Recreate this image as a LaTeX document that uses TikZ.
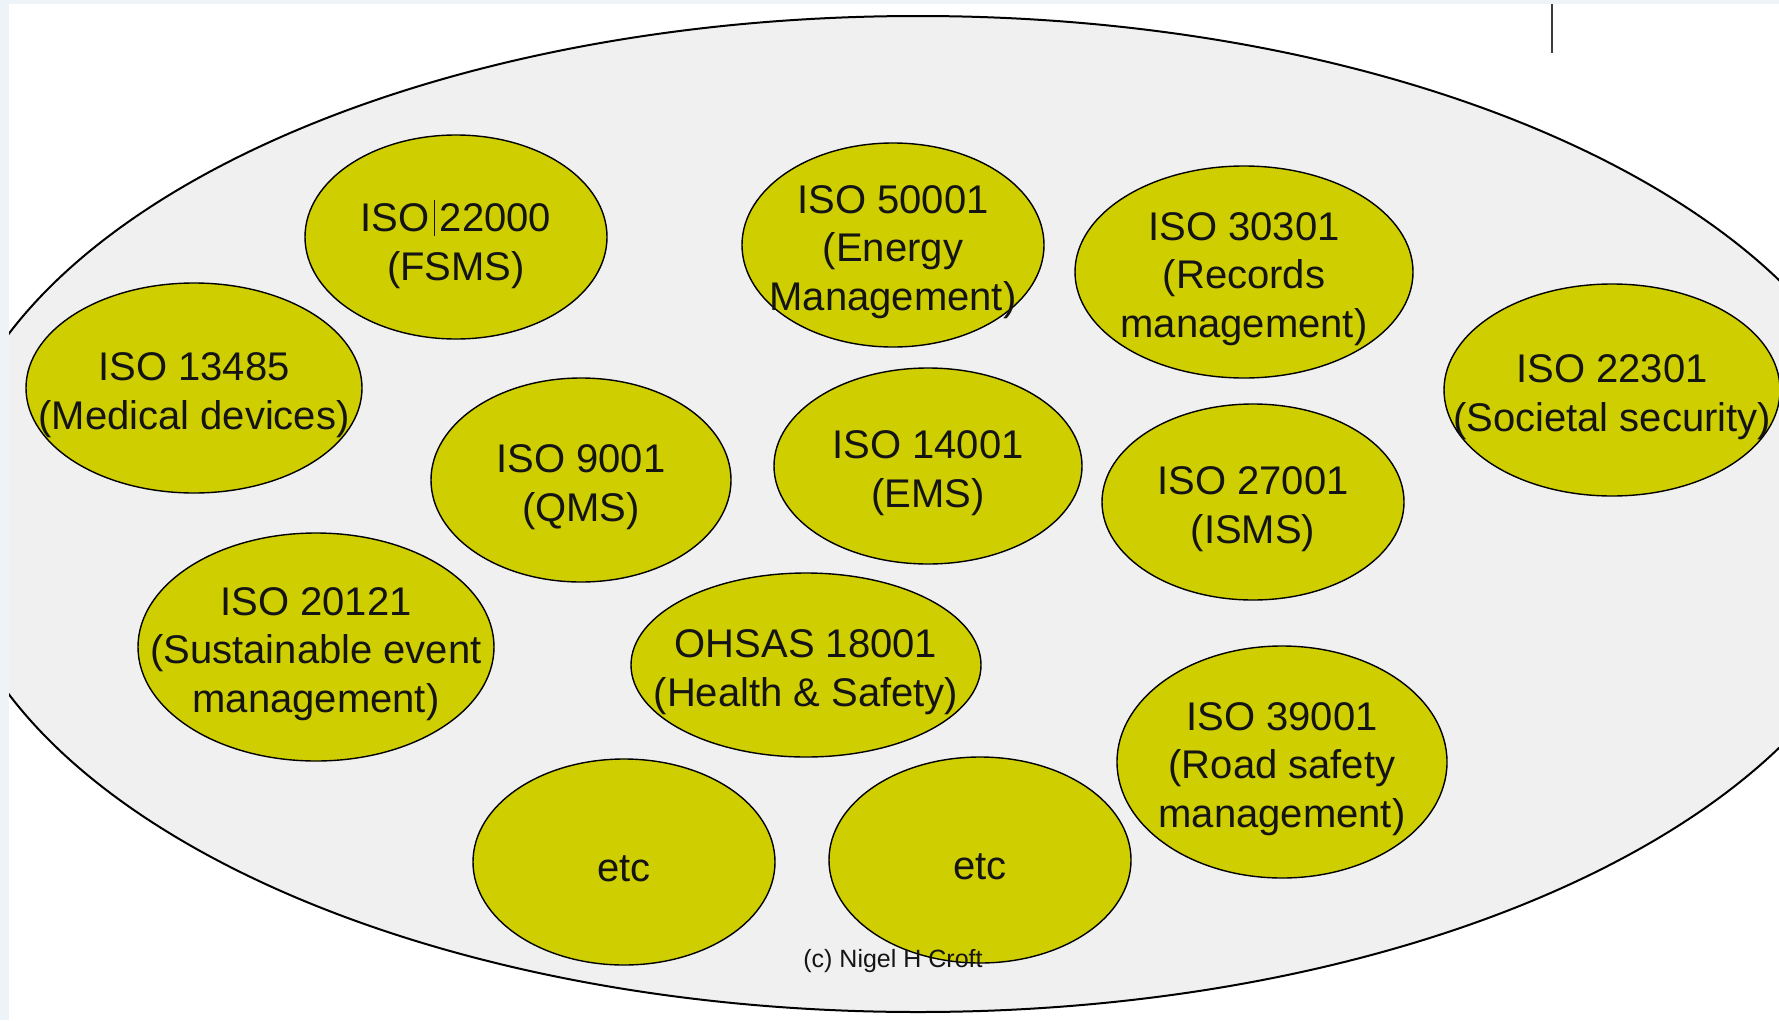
\documentclass[tikz,border=0pt]{standalone}
\usepackage{fontspec}
\setmainfont{Liberation Sans}
\usetikzlibrary{shapes.geometric}
\definecolor{frameblue}{RGB}{238,243,248}
\definecolor{biggrey}{RGB}{240,240,240}
\definecolor{isoyellow}{RGB}{206,206,0}
\definecolor{inkblack}{RGB}{20,20,20}
\tikzset{
  isobox/.style={ellipse, draw=black, line width=1.4pt, fill=isoyellow, inner sep=0pt, outer sep=0pt},
  isotext/.style={align=center, text=inkblack, inner sep=0pt, yshift=-7pt, font=\fontsize{40}{48.5}\selectfont},
  bigbox/.style={draw=black, line width=2pt, fill=biggrey},
}
\begin{document}
\begin{tikzpicture}[x=1pt,y=-1pt]
\useasboundingbox[fill=frameblue] (0,0) rectangle (1779,1020);
\begin{scope}
\clip (9,4) rectangle (1779,1020);
\fill[white] (9,4) rectangle (1779,1020);
\draw[bigbox] (918,514) ellipse [x radius=975, y radius=498];
\node[isobox, minimum width=302, minimum height=204,
  label={[isotext]center:ISO\kern4pt\rule[-4pt]{1.2pt}{36pt}\kern5pt 22000\\(FSMS)}] (iso22000) at (456,237) {};
\node[isobox, minimum width=336, minimum height=210,
  label={[isotext]center:ISO 13485\\(Medical devices)}] (iso13485) at (194,388) {};
\node[isobox, minimum width=302, minimum height=204,
  label={[isotext]center:ISO 50001\\(Energy\\Management)}] (iso50001) at (893,245) {};
\node[isobox, minimum width=338, minimum height=212,
  label={[isotext]center:ISO 30301\\(Records\\management)}] (iso30301) at (1244,272) {};
\node[isobox, minimum width=336, minimum height=212,
  label={[isotext]center:ISO 22301\\(Societal security)}] (iso22301) at (1612,390) {};
\node[isobox, minimum width=300, minimum height=204,
  label={[isotext]center:ISO 9001\\(QMS)}] (iso9001) at (581,480) {};
\node[isobox, minimum width=308, minimum height=196,
  label={[isotext]center:ISO 14001\\(EMS)}] (iso14001) at (928,466) {};
\node[isobox, minimum width=302, minimum height=196,
  label={[isotext]center:ISO 27001\\(ISMS)}] (iso27001) at (1253,502) {};
\node[isobox, minimum width=356, minimum height=228,
  label={[isotext]center:ISO 20121\\(Sustainable event\\management)}] (iso20121) at (316,647) {};
\node[isobox, minimum width=350, minimum height=184,
  label={[isotext]center:OHSAS 18001\\(Health \& Safety)}] (ohsas) at (806,665) {};
\node[isobox, minimum width=330, minimum height=232,
  label={[isotext]center:ISO 39001\\(Road safety\\management)}] (iso39001) at (1282,762) {};
\node[isobox, minimum width=302, minimum height=206,
  label={[isotext]center:etc}] (etcA) at (624,862) {};
\node[isobox, minimum width=302, minimum height=206,
  label={[isotext]center:etc}] (etcB) at (980,860) {};
\node[text=inkblack, font=\fontsize{25}{30}\selectfont, inner sep=0pt] (credit) at (893,961) {(c) Nigel H Croft};
\coordinate (barTop) at (1552,4);
\coordinate (barBot) at (1552,53);
\draw[line width=2.2pt, draw={rgb,255:red,60;green,60;blue,60}] (barTop) -- (barBot);
\end{scope}
\end{tikzpicture}
\end{document}
